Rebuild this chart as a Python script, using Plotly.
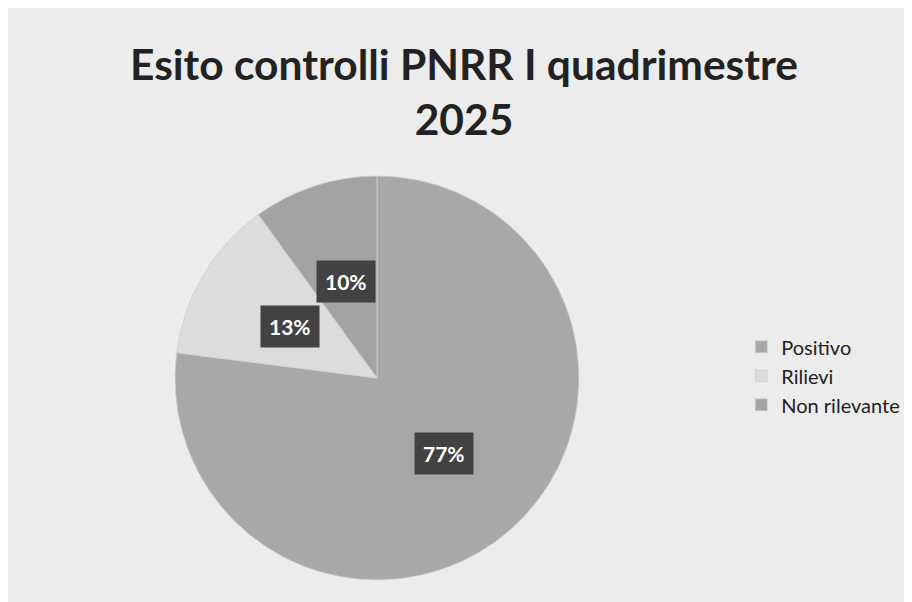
import math
import plotly.graph_objects as go

# Data
categories = ["Positivo", "Rilievi", "Non rilevante"]
values = [77, 13, 10]
slice_colors = ["#a8a8a8", "#dcdcdc", "#a3a3a3"]
title_text = "Esito controlli PNRR I quadrimestre<br>2025"

W, H = 912, 602
OFF = 8  # page offset of the plot div
dom_x = [(175 - OFF) / W, (579 - OFF) / W]
dom_y = [1 - (580 - OFF) / H, 1 - (176 - OFF) / H]

fig = go.Figure(go.Pie(
    labels=categories,
    values=values,
    sort=False,
    direction="clockwise",
    rotation=0,
    marker=dict(colors=slice_colors, line=dict(color="#d0d0d0", width=0.8)),
    textinfo="none",
    hoverinfo="label+percent",
    domain=dict(x=dom_x, y=dom_y),
))

# Percentage labels placed at half radius along each slice's mid-angle
cx = (dom_x[0] + dom_x[1]) / 2 * W
cy = (1 - (dom_y[0] + dom_y[1]) / 2) * H
r = min((dom_x[1] - dom_x[0]) * W, (dom_y[1] - dom_y[0]) * H) / 2
total = sum(values)
cum = 0
for v in values:
    mid = (cum + v / 2) / total * 2 * math.pi
    cum += v
    px = cx + 0.5 * r * math.sin(mid)
    py = cy - 0.5 * r * math.cos(mid)
    fig.add_annotation(
        x=px / W, y=1 - py / H, xref="paper", yref="paper",
        xanchor="center", yanchor="middle",
        text=f"<b>{round(v / total * 100)}%</b>", showarrow=False,
        font=dict(family="Lato, sans-serif", size=21, color="white"),
        bgcolor="#424242", borderpad=8,
    )

fig.update_layout(
    width=W, height=H,
    margin=dict(l=0, r=0, t=0, b=0),
    paper_bgcolor="#ececec",
    plot_bgcolor="#ececec",
    title=dict(
        text=f"<b>{title_text}</b>",
        x=0.5, xanchor="center", y=0.881, yanchor="middle",
        font=dict(family="Lato, sans-serif", size=42.5, color="#222222"),
    ),
    legend=dict(
        x=0.804, xanchor="left", y=0.389, yanchor="middle",
        font=dict(family="Lato, sans-serif", size=20, color="#222222"),
        bgcolor="rgba(0,0,0,0)",
    ),
    showlegend=True,
)

fig.write_html("out.html")
